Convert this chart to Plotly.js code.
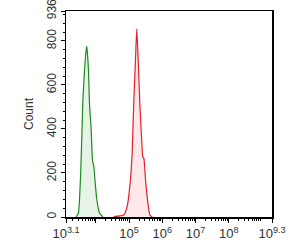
<!DOCTYPE html>
<html><head><meta charset="utf-8">
<script src="https://cdn.plot.ly/plotly-3.0.1.min.js"></script>
<style>body{margin:0;background:#fff}#c{width:306px;height:245px}</style>
</head><body><div id="c"></div>
<script>
// Green (control) histogram: fluorescence intensity vs count
const greenX = [2529, 2972, 3508, 4036, 4416, 5082, 5333, 5970, 6397, 7211, 7889, 8690, 9528, 10715, 12853, 16293];
const greenY = [0, 18, 214, 518, 636, 759, 775, 668, 518, 395, 259, 227, 154, 77, 18, 0];
// Red (stained) histogram
const redX = [34119, 68549, 86896, 109396, 123310, 137721, 155239, 169824, 187499, 209411, 236048, 258226, 276694, 311889, 366438, 420727, 497737];
const redY = [2, 9, 47, 168, 291, 518, 713, 855, 713, 518, 364, 273, 268, 168, 64, 9, 0];
// Axis ticks
const xTickExp = [3.1, 4, 5, 6, 7, 8, 9.3];
const xTickText = ['10<sup>3.1</sup>', '', '10<sup>5</sup>', '10<sup>6</sup>', '10<sup>7</sup>', '10<sup>8</sup>', '10<sup>9.3</sup>'];
const yTickVals = [0, 200, 400, 600, 800, 936];

const minorX = [];
for (let e = 3; e <= 9; e++) for (let m = 2; m <= 9; m++) {
  const v = m * Math.pow(10, e);
  if (Math.log10(v) > 3.1 && Math.log10(v) < 9.3) minorX.push(v);
}
const minorY = [];
for (let v = 40; v < 936; v += 40) if (v % 200) minorY.push(v);

const traces = [
  {x: greenX, y: greenY, type: 'scatter', mode: 'lines', line: {color: '#1f8a1f', width: 1.2, shape: 'spline', smoothing: 0.5}, fill: 'tozeroy', fillcolor: 'rgba(60,160,60,0.12)'},
  {x: redX, y: redY, type: 'scatter', mode: 'lines', line: {color: '#e0202a', width: 1.2, shape: 'spline', smoothing: 0.5}, fill: 'tozeroy', fillcolor: 'rgba(255,90,100,0.14)'}
];
const layout = {
  width: 306, height: 245,
  margin: {l: 66, r: 34, t: 11, b: 28},
  paper_bgcolor: '#fff', plot_bgcolor: '#fff',
  showlegend: false,
  font: {family: 'Liberation Sans, Arial, sans-serif', size: 12, color: '#333'},
  xaxis: {
    type: 'log', range: [3.1, 9.3],
    tickvals: xTickExp.map(e => Math.pow(10, e)), ticktext: xTickText,
    ticks: 'outside', ticklen: 4, tickcolor: '#000',
    showline: true, linecolor: '#000', linewidth: 1.5, mirror: true,
    showgrid: false, zeroline: false,
    ticklabeloverflow: 'allow',
    tickfont: {size: 13, color: '#333'},
    minor: {tickvals: minorX, ticks: 'outside', ticklen: 2, tickcolor: '#000', showgrid: false}
  },
  yaxis: {
    range: [0, 936],
    tickvals: yTickVals, ticktext: yTickVals.map(String),
    tickangle: -90,
    ticks: 'outside', ticklen: 4, tickcolor: '#000',
    showline: true, linecolor: '#000', linewidth: 1.5, mirror: true,
    showgrid: false, zeroline: false,
    ticklabeloverflow: 'allow',
    tickfont: {size: 12, color: '#333'},
    title: {text: 'Count', font: {size: 12, color: '#333'}, standoff: 8},
    minor: {tickvals: minorY, ticks: 'outside', ticklen: 2, tickcolor: '#000', showgrid: false}
  }
};
Plotly.newPlot('c', traces, layout, {displayModeBar: false, staticPlot: true});
</script></body></html>
